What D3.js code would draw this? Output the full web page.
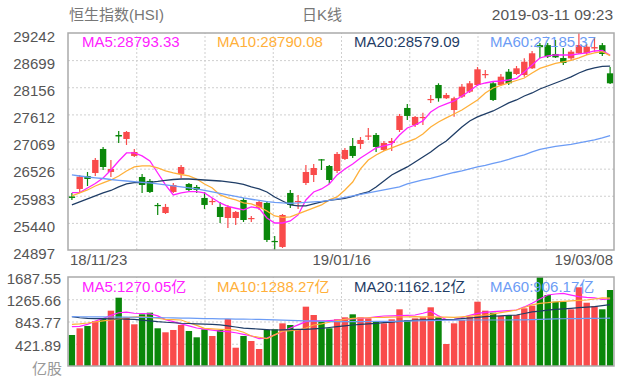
<!DOCTYPE html>
<html><head><meta charset="utf-8">
<script src="https://cdn.jsdelivr.net/npm/d3@7"></script>
<style>
body{margin:0;background:#fff}
text{font-family:"Liberation Sans",Arial,"Noto Sans CJK SC",sans-serif}
</style>
</head><body>
<svg id="c" width="641" height="383"></svg>
<script>
// ---------------- DATA ----------------
const dates = ["2018-11-23","2018-11-26","2018-11-27","2018-11-28","2018-11-29","2018-11-30",
"2018-12-03","2018-12-04","2018-12-05","2018-12-06","2018-12-07","2018-12-10","2018-12-11","2018-12-12","2018-12-13","2018-12-14",
"2018-12-17","2018-12-18","2018-12-19","2018-12-20","2018-12-21","2018-12-24","2018-12-27","2018-12-28","2018-12-31",
"2019-01-02","2019-01-03","2019-01-04","2019-01-07","2019-01-08","2019-01-09","2019-01-10","2019-01-11",
"2019-01-14","2019-01-15","2019-01-16","2019-01-17","2019-01-18","2019-01-21","2019-01-22","2019-01-23","2019-01-24","2019-01-25",
"2019-01-28","2019-01-29","2019-01-30","2019-01-31","2019-02-01","2019-02-04","2019-02-08",
"2019-02-11","2019-02-12","2019-02-13","2019-02-14","2019-02-15","2019-02-18","2019-02-19","2019-02-20","2019-02-21","2019-02-22",
"2019-02-25","2019-02-26","2019-02-27","2019-02-28","2019-03-01","2019-03-04","2019-03-05","2019-03-06","2019-03-07","2019-03-08"];

const opens  = [25969,26119,26379,26439,26920,26459,27200,27120,26780,26359,26280,25799,25638,26059,26419,26219,26159,25939,25859,25759,
25538,25538,25899,25518,25738,25839,25078,24958,26039,25859,26239,26399,26713,26579,26479,26720,26980,27020,27170,27200,
26900,27040,27300,27741,27400,27541,27901,28201,27935,27700,27967,28067,28201,28401,28235,28201,28467,28421,28401,28535,
28999,28999,28822,28741,28735,28836,28836,28932,28999,28435];
const highs  = [26039,26399,26459,26740,26960,26700,27280,27280,26920,26419,26319,25839,25819,26239,26599,26239,26199,26059,25939,25859,
25799,25679,25939,25578,25899,25879,25178,25618,26099,25999,26599,26619,26719,26599,26860,26940,27140,27160,27340,27240,
27080,27140,27621,27821,27581,27646,28001,28235,28041,27967,28221,28281,28561,28501,28281,28421,28521,28581,28735,28882,
29042,29042,29102,28942,28902,29242,29022,29162,29042,28561];
const lows   = [25899,26059,26179,26379,26499,26359,27040,27000,26760,26039,26039,25599,25618,26039,26339,26079,26039,25719,25799,25438,
25338,25398,25458,25458,25698,25058,24897,24938,25739,25719,26199,26259,26499,26219,26439,26700,26740,26920,27100,26860,
26880,26880,27260,27501,27360,27400,27841,27867,27921,27566,27941,28041,28181,28335,27881,28181,28201,28401,28367,28521,
28735,28741,28741,28601,28701,28822,28801,28868,28781,28221];
const closes = [25939,26365,26319,26700,26559,26519,27170,27260,26860,26199,26059,25779,25759,26199,26559,26099,26099,25799,25879,25558,
25759,25659,25498,25538,25859,25098,25058,25598,25799,25879,26459,26539,26689,26299,26820,26900,26780,27100,27190,26960,
27040,27080,27581,27581,27561,27561,27921,27935,28001,27935,28167,28235,28515,28421,27901,28367,28235,28535,28667,28836,
28958,28768,28754,28641,28868,29002,28968,28960,28822,28235];

// turnover, 亿
const volumes = [588,715,758,853,904,1049,1295,923,790,980,1011,715,639,683,777,664,544,696,569,683,
891,347,569,474,322,683,696,809,777,683,1125,967,859,715,885,923,980,923,904,840,
809,885,1075,872,904,923,1113,923,417,809,872,935,1219,1049,1011,948,967,967,1094,1144,
1687.55,1346,1219,1219,1075,1492,1200,1138,1075,1441];

// price moving averages
const ma5  = [26045,26045,26139,26229,26339,26500,26680,26840,26840,26780,26680,26439,26199,25999,26039,26065,26065,26039,25939,25839,
25769,25733,25699,25759,25733,25539,25438,25438,25479,25599,25899,26059,26119,26219,26400,26520,26620,26740,26840,26940,
26980,27020,27200,27340,27400,27481,27661,27761,27821,27881,27981,28081,28201,28241,28271,28281,28301,28335,28462,28602,
28742,28782,28802,28802,28802,28822,28842,28882,28892,28793.33];
const ma10 = [25979,26039,26099,26179,26239,26299,26379,26480,26560,26580,26580,26540,26480,26439,26409,26379,26319,26219,26139,25999,
25939,25899,25839,25819,25759,25679,25579,25549,25559,25619,25679,25739,25799,25899,25959,26099,26259,26520,26700,26800,
26880,26940,27000,27060,27120,27220,27360,27461,27541,27621,27701,27801,27901,28041,28141,28191,28241,28291,28341,28441,
28532,28582,28632,28662,28692,28742,28802,28842,28868,28790.08];
const ma20 = [25799,25859,25919,25979,26039,26089,26159,26219,26245,26249,26253,26269,26289,26309,26319,26319,26309,26299,26289,26279,
26259,26239,26209,26159,26119,26059,25959,25879,25799,25779,25779,25819,25859,25889,25909,25929,25969,26019,26059,26159,
26279,26400,26480,26560,26660,26760,26860,26980,27080,27220,27360,27481,27561,27621,27681,27761,27841,27901,27981,28041,
28121,28181,28241,28301,28362,28441,28502,28542,28572,28579.09];
const ma60 = [26400,26379,26359,26343,26329,26309,26293,26279,26265,26253,26239,26219,26199,26179,26159,26139,26119,26089,26059,26029,
25999,25969,25939,25913,25889,25865,25849,25839,25833,25839,25849,25859,25869,25889,25919,25949,25979,26009,26039,26069,
26099,26129,26159,26219,26259,26299,26329,26369,26409,26449,26480,26520,26560,26590,26630,26666,26710,26760,26800,26860,
26910,26940,26970,26994,27010,27040,27070,27100,27140,27185.37];

// turnover moving averages
const vma5  = [745,750,790,850,900,960,1010,1020,1000,995,990,950,880,840,800,760,720,700,680,660,
650,630,600,570,520,530,590,650,720,780,840,860,850,860,872,885,895,904,915,930,
948,950,955,960,967,1000,1040,950,880,880,920,960,999,1015,1030,1040,1050,1062,1120,1189,
1270,1346,1365,1378,1345,1314,1300,1290,1265,1270.05];
const vma10 = [790,800,815,835,855,872,895,915,930,930,923,905,885,880,872,820,770,715,705,695,
688,683,640,569,545,518,590,660,670,683,720,777,800,830,860,885,904,910,915,920,
923,926,929,932,935,932,930,927,925,923,933,944,955,967,990,1013,1036,1062,1110,1160,
1189,1200,1215,1225,1235,1245,1251,1270,1290,1288.27];
const vma20 = [935,915,904,900,897,894,891,888,885,870,855,840,830,820,811,806,800,795,790,780,
760,740,720,710,700,690,683,686,690,693,696,705,715,730,745,760,777,788,799,810,
821,833,845,857,870,873,876,879,882,885,897,910,922,935,943,951,959,967,995,1025,
1040,1060,1072,1084,1094,1105,1115,1125,1145,1162.12];
const vma60 = [935,934,933,932,930,929,928,926,924,922,920,918,915,912,909,906,903,900,897,894,
892,890,888,886,884,880,875,870,865,860,855,850,846,844,842,842,842,843,844,845,
846,848,850,852,855,858,861,864,867,870,871,872,872,872,872,872,872,873,876,880,
885,890,893,896,898,900,902,904,905,906.17];

const priceTicks = [29242,28699,28156,27612,27069,26526,25983,25440,24897];
const volTicks = [1687.55,1265.66,843.77,421.89];
const volUnit = "亿股";
const xTickDates = ["2018-11-23","2019-01-16","2019-03-08"];
const xTickLabels = ["18/11/23","19/01/16","19/03/08"];
const maNames = ["MA5","MA10","MA20","MA60"];
const maLast = ["28793.33","28790.08","28579.09","27185.37"];
const vmaLast = ["1270.05","1288.27","1162.12","906.17"];
const maColors = ["#ff22ff","#ffb03a","#1f3d66","#6c9cf5"];
const titleText = "恒生指数(HSI)", periodText = "日K线", timeText = "2019-03-11 09:23";

// ---------------- LAYOUT ----------------
const L=68, R=614, T=33, B=250, VT=277, VB=366;
const UP="#f94b4b", DOWN="#0a870a";
const svg = d3.select("#c");

const x = d3.scaleBand().domain(dates).range([L,R]).paddingInner(0.18).paddingOuter(0.09);
const bw = x.bandwidth();
const cx = d => x(d) + bw/2;
const y = d3.scaleLinear().domain([24897,29242]).range([B,T]);
const yv = d3.scaleLinear().domain([0,1687.55]).range([VB,VT]);

// header
svg.append("text").attr("x",69).attr("y",20).attr("font-size",15).attr("fill","#777").text(titleText);
svg.append("text").attr("x",322).attr("y",20).attr("font-size",15).attr("fill","#777").attr("text-anchor","middle").text(periodText);
svg.append("text").attr("x",613).attr("y",20).attr("font-size",15.5).attr("fill","#555").attr("text-anchor","end").text(timeText);

// grids
function grid(g, yscale, ticks, top, bottom){
  g.append("g").attr("transform",`translate(${L},0)`)
   .call(d3.axisLeft(yscale).tickValues(ticks).tickSize(-(R-L)).tickFormat(""))
   .call(a=>a.select(".domain").remove())
   .call(a=>a.selectAll("line").attr("stroke","#cfcfcf").attr("stroke-dasharray","2,2"));
  const vx = d3.scaleLinear().domain([0,8]).range([L,R]);
  g.append("g").attr("transform",`translate(0,${bottom})`)
   .call(d3.axisBottom(vx).tickValues(d3.range(1,8)).tickSize(-(bottom-top)).tickFormat(""))
   .call(a=>a.select(".domain").remove())
   .call(a=>a.selectAll("line").attr("stroke","#cfcfcf").attr("stroke-dasharray","2,2"));
}
grid(svg, y, priceTicks.slice(1,-1), T, B);
grid(svg, yv, volTicks.slice(1), VT, VB);

// y axis labels
svg.append("g").attr("transform",`translate(${L},0)`)
  .call(d3.axisLeft(y).tickValues(priceTicks).tickSize(0).tickPadding(13).tickFormat(d3.format("d")))
  .call(a=>a.select(".domain").remove())
  .call(a=>a.selectAll("text").attr("font-size",15).attr("fill","#555").attr("dy","0.55em")
        .attr("font-family",'"Liberation Sans",Arial,sans-serif'));
svg.append("g").attr("transform",`translate(${L},0)`)
  .call(d3.axisLeft(yv).tickValues(volTicks).tickSize(0).tickPadding(7).tickFormat(d3.format(".2f")))
  .call(a=>a.select(".domain").remove())
  .call(a=>a.selectAll("text").attr("font-size",15).attr("fill","#555").attr("dy","0.42em")
        .attr("font-family",'"Liberation Sans",Arial,sans-serif'));
svg.append("text").attr("x",L-6).attr("y",yv(0)+8).attr("text-anchor","end").attr("font-size",15)
  .attr("fill","#999").text(volUnit);

// x labels
xTickDates.forEach((d,i)=>{
  const t = svg.append("text").attr("y",B+15).attr("font-size",15).attr("fill","#555").text(xTickLabels[i]);
  if(i===0) t.attr("x",L+2).attr("text-anchor","start");
  else if(i===xTickDates.length-1) t.attr("x",R-1).attr("text-anchor","end");
  else t.attr("x",x(d)).attr("text-anchor","middle");
});

// candles
const cg = svg.append("g");
dates.forEach((d,i)=>{
  const up = closes[i] >= opens[i];
  const col = up ? UP : DOWN;
  cg.append("line").attr("x1",cx(d)).attr("x2",cx(d)).attr("y1",y(highs[i])).attr("y2",y(lows[i]))
    .attr("stroke",col).attr("stroke-width",1.2);
  const top = y(Math.max(opens[i],closes[i])), bot = y(Math.min(opens[i],closes[i]));
  cg.append("rect").attr("x",x(d)).attr("width",bw).attr("y",top).attr("height",Math.max(1.2,bot-top)).attr("fill",col);
});

// price MAs
const lineP = d3.line().x((v,i)=>cx(dates[i])).y(v=>y(v));
[ma5,ma10,ma20,ma60].forEach((arr,k)=>{
  svg.append("path").attr("d",lineP(arr)).attr("fill","none").attr("stroke",maColors[k]).attr("stroke-width",1.3);
});

// volume bars
const vg = svg.append("g");
dates.forEach((d,i)=>{
  const up = closes[i] >= opens[i];
  vg.append("rect").attr("x",x(d)).attr("width",bw).attr("y",yv(volumes[i])).attr("height",yv(0)-yv(volumes[i]))
    .attr("fill", up?UP:DOWN);
});
const lineV = d3.line().x((v,i)=>cx(dates[i])).y(v=>yv(v));
[vma5,vma10,vma20,vma60].forEach((arr,k)=>{
  svg.append("path").attr("d",lineV(arr)).attr("fill","none").attr("stroke",maColors[k]).attr("stroke-width",1.2);
});

// frames
svg.append("rect").attr("x",L).attr("y",T).attr("width",R-L).attr("height",B-T).attr("fill","none").attr("stroke","#aaa").attr("stroke-width",1.5);
svg.append("rect").attr("x",L).attr("y",VT).attr("width",R-L).attr("height",VB-VT).attr("fill","none").attr("stroke","#aaa").attr("stroke-width",1.5);

// legends
const legX = [82,217,354,490];
maNames.forEach((n,k)=>{
  svg.append("text").attr("x",legX[k]).attr("y",47).attr("font-size",15).attr("fill",maColors[k]).text(n+":"+maLast[k]);
  svg.append("text").attr("x",legX[k]).attr("y",292).attr("font-size",15).attr("fill",maColors[k]).text(n+":"+vmaLast[k]+"亿");
});
</script>
</body></html>
